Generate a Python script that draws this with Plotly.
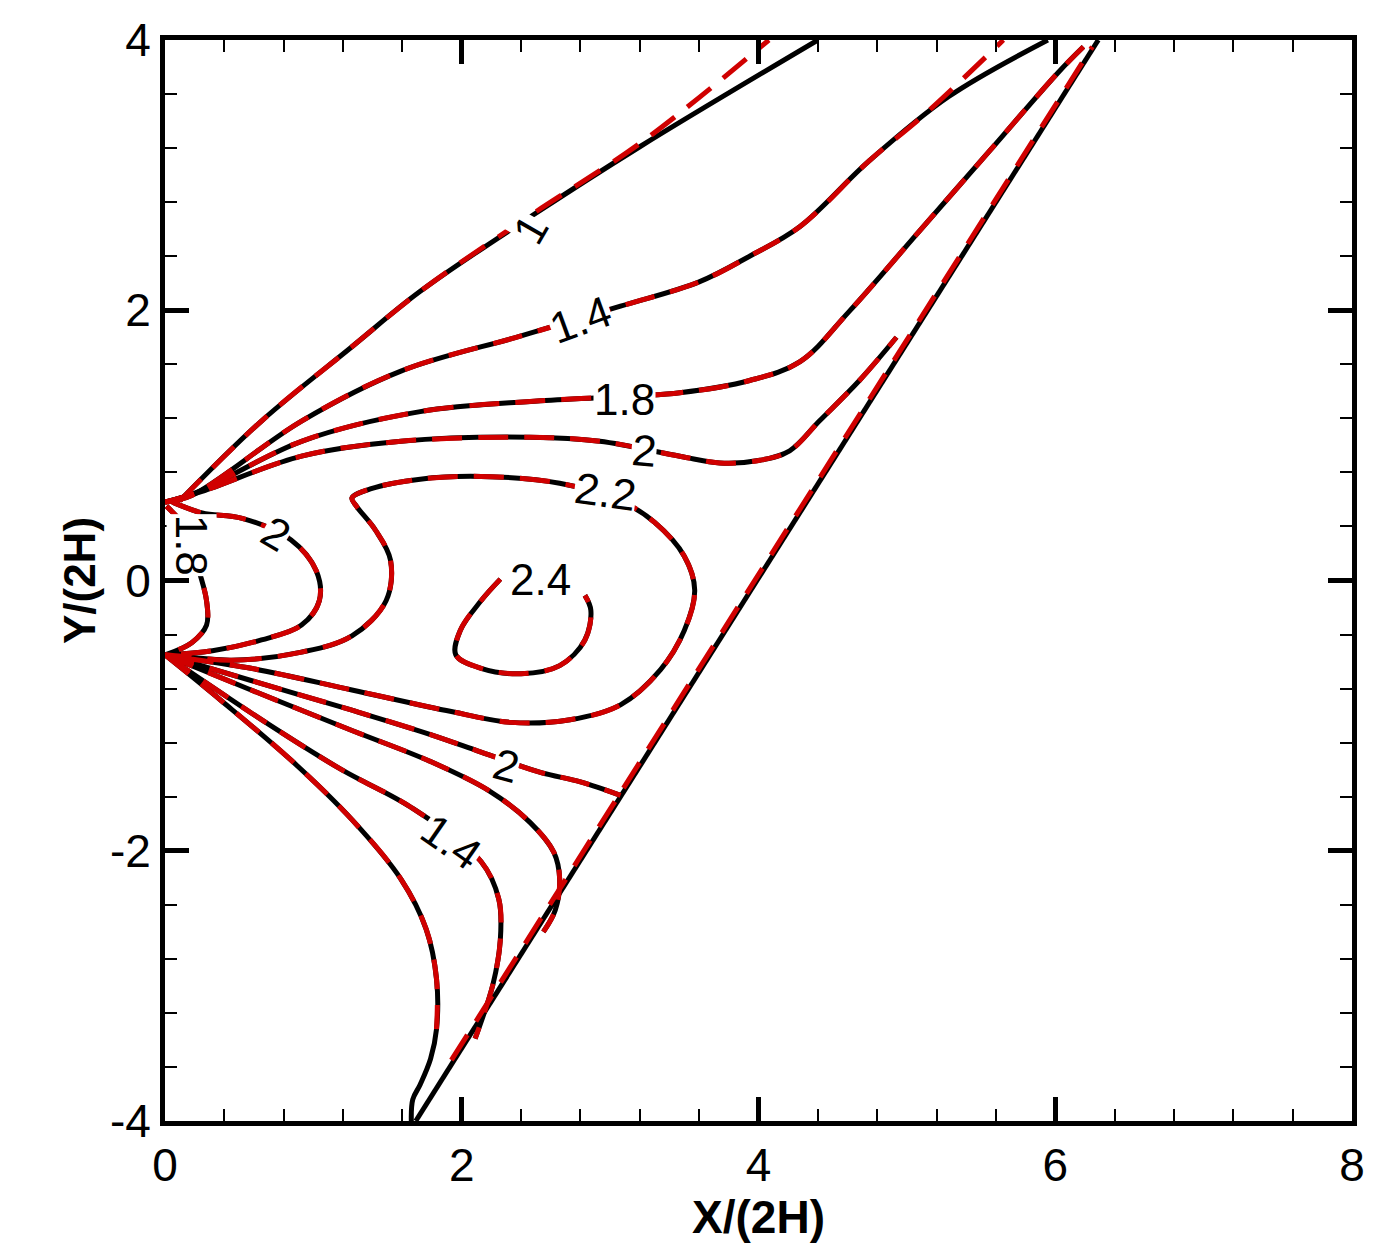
import plotly.graph_objects as go

# contour lines (data units)
c1_x = [0.10, 0.65, 1.26, 1.72, 2.46, 3.20, 4.40]
c1_y = [0.59, 1.18, 1.73, 2.14, 2.69, 3.21, 4.00]
c1r_x = [0.10, 0.65, 1.26, 1.72, 2.46, 3.22, 4.07]
c1r_y = [0.59, 1.18, 1.73, 2.14, 2.70, 3.25, 4.00]

c14_x = [0.0, 0.18, 0.92, 1.59, 2.40, 3.07, 3.60, 3.94, 4.28, 4.74, 5.28, 5.95]
c14_y = [0.58, 0.63, 1.18, 1.55, 1.81, 2.03, 2.21, 2.40, 2.62, 3.10, 3.58, 4.00]
c14r_x = [0.0, 0.18, 0.92, 1.59, 2.40, 3.07, 3.60, 3.94, 4.28, 4.74, 5.12, 5.65]
c14r_y = [0.58, 0.63, 1.18, 1.55, 1.81, 2.03, 2.21, 2.40, 2.62, 3.10, 3.45, 4.00]

c18_x = [0.0, 0.21, 0.92, 1.72, 2.53, 3.47, 3.94, 4.28, 4.61, 5.08, 5.55, 6.02, 6.19]
c18_y = [0.58, 0.65, 1.03, 1.25, 1.33, 1.39, 1.48, 1.62, 1.99, 2.58, 3.17, 3.76, 3.95]

c2_x = [0.0, 0.25, 0.92, 1.59, 2.46, 2.93, 3.47, 3.74, 4.01, 4.21, 4.41, 4.68, 4.93]
c2_y = [0.58, 0.66, 0.92, 1.03, 1.06, 1.03, 0.92, 0.87, 0.89, 0.96, 1.18, 1.48, 1.80]

c22_x = [0.0, 0.45, 0.92, 1.26, 1.49, 1.52, 1.42, 1.29, 1.26, 1.39, 1.72, 2.13, 2.66, 3.07, 3.30,
         3.50, 3.57, 3.50, 3.34, 3.07, 2.73, 2.33, 1.93, 1.26, 0.58, 0.0]
c22_y = [-0.55, -0.59, -0.53, -0.41, -0.15, 0.15, 0.37, 0.55, 0.61, 0.68, 0.75, 0.77, 0.72, 0.59, 0.43,
         0.18, -0.07, -0.37, -0.66, -0.92, -1.03, -1.05, -0.97, -0.81, -0.65, -0.55]

c24_x = [2.26, 2.13, 1.99, 1.96, 2.13, 2.40, 2.66, 2.83, 2.87, 2.83]
c24_y = [0.01, -0.15, -0.37, -0.55, -0.65, -0.69, -0.63, -0.44, -0.22, -0.11]

l2_x = [0.05, 0.25, 0.52, 0.85, 1.02, 1.04, 0.92, 0.65, 0.32, 0.0]
l2_y = [0.58, 0.50, 0.46, 0.30, 0.07, -0.15, -0.33, -0.44, -0.52, -0.55]

l18_x = [0.01, 0.15, 0.23, 0.28, 0.28, 0.18, 0.0]
l18_y = [0.55, 0.37, 0.07, -0.15, -0.33, -0.46, -0.55]

b2_x = [0.0, 0.58, 1.26, 1.79, 2.13, 2.53, 2.80, 3.07]
b2_y = [-0.55, -0.74, -0.96, -1.14, -1.27, -1.42, -1.49, -1.59]

b18_x = [0.0, 0.58, 1.26, 1.79, 2.19, 2.46, 2.62, 2.66, 2.63, 2.55]
b18_y = [-0.55, -0.81, -1.11, -1.34, -1.56, -1.79, -2.01, -2.21, -2.44, -2.60]

b14_x = [0.0, 0.65, 1.19, 1.66, 2.13, 2.25, 2.26, 2.21, 2.09]
b14_y = [-0.55, -1.03, -1.40, -1.68, -2.08, -2.36, -2.66, -2.99, -3.39]

b1_x = [0.0, 0.38, 0.85, 1.26, 1.59, 1.76, 1.83, 1.83, 1.79, 1.72, 1.67, 1.66]
b1_y = [-0.55, -0.89, -1.33, -1.77, -2.21, -2.58, -2.95, -3.32, -3.54, -3.73, -3.84, -4.00]
b1r_x = b1_x[:8]
b1r_y = b1_y[:8]

shock_x = [1.69, 6.29]
shock_y = [-4.0, 4.0]
shockr_x = [1.93, 6.25]
shockr_y = [-3.55, 3.95]

# labels
lab_text = ["1", "1.4", "1.8", "2", "2.2", "2.4", "2", "1.8", "2", "1.4"]
lab_x = [2.46, 2.80, 3.10, 3.23, 2.97, 2.53, 0.75, 0.18, 2.30, 1.93]
lab_y = [2.60, 1.93, 1.34, 0.96, 0.66, 0.01, 0.35, 0.26, -1.37, -1.93]
lab_ang = [-60, -20, 0, 5, 8, 0, 30, 90, 15, 35]

tick_vals = [-4, -2, 0, 2, 4, 6, 8]
tick_text = ["-4", "-2", "0", "2", "4", "6", "8"]

fig = go.Figure()
black = [(c1_x, c1_y), (c14_x, c14_y), (c18_x, c18_y), (c2_x, c2_y), (c22_x, c22_y),
         (c24_x, c24_y), (l2_x, l2_y), (l18_x, l18_y), (b2_x, b2_y), (b18_x, b18_y),
         (b14_x, b14_y), (b1_x, b1_y), (shock_x, shock_y)]
red = [(c1r_x, c1r_y), (c14r_x, c14r_y), (c18_x, c18_y), (c2_x, c2_y), (c22_x, c22_y),
       (c24_x, c24_y), (l2_x, l2_y), (l18_x, l18_y), (b2_x, b2_y), (b18_x, b18_y),
       (b14_x, b14_y), (b1r_x, b1r_y), (shockr_x, shockr_y)]
for x, y in black:
    fig.add_trace(go.Scatter(x=x, y=y, mode="lines", line=dict(color="black", width=5, shape="spline"),
                             showlegend=False, hoverinfo="skip"))
for x, y in red:
    fig.add_trace(go.Scatter(x=x, y=y, mode="lines",
                             line=dict(color="#d00000", width=5, dash="30px,16px", shape="spline"),
                             showlegend=False, hoverinfo="skip"))

for t, x, y, a in zip(lab_text, lab_x, lab_y, lab_ang):
    fig.add_annotation(x=x, y=y, text=t, showarrow=False, textangle=a, bgcolor="white",
                       font=dict(size=44, color="black", family="Liberation Sans"), borderpad=0)

axis_common = dict(showgrid=False, zeroline=False, showline=True, linecolor="black", linewidth=5,
                   mirror="ticks", ticks="inside", ticklen=24, tickwidth=5, tickcolor="black",
                   tickvals=tick_vals, ticktext=tick_text,
                   tickfont=dict(size=46, family="Liberation Sans", color="black"),
                   minor=dict(ticks="inside", ticklen=12, tickwidth=1.5, tickcolor="black", dtick=0.4))
fig.update_xaxes(range=[0, 8],
                 title=dict(text="<b>X/(2H)</b>", font=dict(size=46, family="Liberation Sans", color="black"),
                            standoff=2),
                 **axis_common)
fig.update_yaxes(range=[-4, 4],
                 title=dict(text="<b>Y/(2H)</b>", font=dict(size=44, family="Liberation Sans", color="black"),
                            standoff=2),
                 **axis_common)
fig.update_layout(width=1388, height=1254, plot_bgcolor="white", paper_bgcolor="white",
                  margin=dict(l=157, r=44, t=32, b=141, autoexpand=False))
fig.write_html("out.html")
